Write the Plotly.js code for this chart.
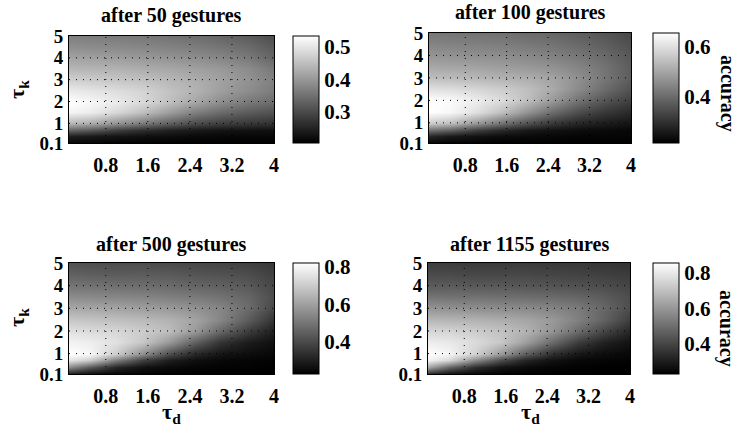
<!DOCTYPE html>
<html>
<head>
<meta charset="utf-8">
<script src="https://cdn.plot.ly/plotly-3.0.1.min.js"></script>
<style>html,body{margin:0;padding:0;background:#fff;}#chart{width:738px;height:426px;}</style>
</head>
<body>
<div id="chart"></div>
<script>
// grid of tau_d (x) and tau_k (y) sample points
const tauD = [0.1, 0.5, 1.0, 1.5, 2.0, 2.5, 3.0, 3.5, 4.0];
const tauK = [0.1, 0.4, 0.7, 1.0, 1.5, 2.0, 2.5, 3.0, 3.5, 4.0, 4.5, 5.0];

// accuracy after 50 gestures (rows = tauK, cols = tauD)
const acc50 = [
  [0.210,0.210,0.206,0.206,0.203,0.203,0.203,0.203,0.203],
  [0.243,0.236,0.229,0.223,0.220,0.216,0.213,0.213,0.213],
  [0.335,0.319,0.286,0.263,0.246,0.236,0.229,0.226,0.223],
  [0.441,0.428,0.395,0.362,0.329,0.302,0.286,0.276,0.269],
  [0.521,0.511,0.484,0.451,0.408,0.369,0.342,0.322,0.309],
  [0.534,0.524,0.508,0.484,0.451,0.418,0.385,0.359,0.342],
  [0.508,0.501,0.491,0.478,0.455,0.435,0.408,0.385,0.362],
  [0.474,0.468,0.461,0.455,0.441,0.428,0.412,0.392,0.369],
  [0.441,0.438,0.435,0.428,0.421,0.412,0.402,0.385,0.359],
  [0.415,0.412,0.408,0.402,0.395,0.388,0.378,0.362,0.335],
  [0.388,0.385,0.382,0.378,0.372,0.365,0.355,0.342,0.319],
  [0.369,0.365,0.362,0.359,0.352,0.345,0.335,0.322,0.302]
];
// accuracy after 100 gestures
const acc100 = [
  [0.219,0.214,0.214,0.210,0.210,0.210,0.210,0.210,0.210],
  [0.277,0.255,0.241,0.232,0.228,0.223,0.219,0.219,0.219],
  [0.411,0.380,0.322,0.282,0.255,0.241,0.232,0.228,0.223],
  [0.568,0.545,0.478,0.411,0.353,0.308,0.277,0.259,0.246],
  [0.657,0.644,0.603,0.545,0.469,0.398,0.344,0.308,0.282],
  [0.657,0.648,0.626,0.594,0.545,0.478,0.411,0.358,0.322],
  [0.603,0.599,0.585,0.568,0.545,0.505,0.451,0.398,0.353],
  [0.545,0.541,0.532,0.523,0.514,0.496,0.460,0.416,0.371],
  [0.505,0.501,0.496,0.487,0.478,0.465,0.442,0.411,0.371],
  [0.469,0.465,0.460,0.456,0.447,0.434,0.416,0.393,0.362],
  [0.442,0.438,0.434,0.429,0.420,0.411,0.393,0.375,0.349],
  [0.420,0.416,0.411,0.407,0.398,0.389,0.375,0.358,0.335]
];
// accuracy after 500 gestures
const acc500 = [
  [0.289,0.254,0.242,0.236,0.230,0.230,0.230,0.230,0.230],
  [0.555,0.437,0.319,0.271,0.254,0.242,0.236,0.236,0.230],
  [0.761,0.702,0.525,0.378,0.301,0.265,0.248,0.242,0.236],
  [0.820,0.802,0.702,0.555,0.407,0.319,0.277,0.260,0.248],
  [0.791,0.779,0.749,0.690,0.584,0.454,0.348,0.295,0.265],
  [0.749,0.737,0.726,0.702,0.667,0.584,0.466,0.372,0.301],
  [0.690,0.684,0.673,0.661,0.643,0.608,0.537,0.442,0.348],
  [0.619,0.614,0.608,0.596,0.584,0.566,0.537,0.478,0.395],
  [0.555,0.549,0.543,0.537,0.525,0.513,0.496,0.466,0.407],
  [0.501,0.496,0.490,0.484,0.478,0.466,0.454,0.437,0.395],
  [0.454,0.448,0.442,0.442,0.437,0.425,0.419,0.407,0.378],
  [0.419,0.413,0.407,0.407,0.401,0.395,0.389,0.378,0.360]
];
// accuracy after 1155 gestures
const acc1155 = [
  [0.324,0.261,0.243,0.236,0.230,0.230,0.230,0.230,0.230],
  [0.636,0.480,0.343,0.280,0.255,0.243,0.236,0.230,0.230],
  [0.824,0.761,0.574,0.418,0.318,0.274,0.249,0.243,0.236],
  [0.855,0.830,0.743,0.605,0.455,0.343,0.286,0.261,0.249],
  [0.811,0.799,0.768,0.718,0.618,0.493,0.380,0.311,0.274],
  [0.755,0.749,0.730,0.705,0.668,0.593,0.493,0.399,0.324],
  [0.680,0.674,0.668,0.655,0.636,0.605,0.543,0.468,0.380],
  [0.593,0.586,0.580,0.574,0.568,0.555,0.530,0.480,0.418],
  [0.518,0.511,0.511,0.505,0.499,0.493,0.480,0.455,0.418],
  [0.455,0.455,0.449,0.449,0.443,0.436,0.430,0.418,0.399],
  [0.411,0.411,0.405,0.405,0.405,0.399,0.393,0.386,0.374],
  [0.380,0.380,0.374,0.374,0.374,0.368,0.368,0.361,0.355]
];

const panelTitles = ['after 50 gestures', 'after 100 gestures', 'after 500 gestures', 'after 1155 gestures'];
const xTickVals = [0.8, 1.6, 2.4, 3.2, 4];
const xTickText = ['0.8', '1.6', '2.4', '3.2', '4'];
const yTickVals = [0.1, 1, 2, 3, 4, 5];
const yTickText = ['0.1', '1', '2', '3', '4', '5'];
const cbTicks50 = [0.3, 0.4, 0.5];
const cbTicks100 = [0.4, 0.6];
const cbTicks500 = [0.4, 0.6, 0.8];
const cbTicks1155 = [0.4, 0.6, 0.8];
const cbRange50 = [0.203, 0.534];
const cbRange100 = [0.210, 0.657];
const cbRange500 = [0.230, 0.820];
const cbRange1155 = [0.230, 0.855];

const W = 738, H = 426;
const FONT = 'Liberation Serif, Times New Roman, serif';
const px = v => v / W;
const py = v => 1 - v / H;

const panels = [
  {z: acc50, ticks: cbTicks50, range: cbRange50, xd: [69, 274], yd: [36, 143], cbx: 293, tcy: 16},
  {z: acc100, ticks: cbTicks100, range: cbRange100, xd: [429, 631], yd: [33, 143], cbx: 653, tcy: 13},
  {z: acc500, ticks: cbTicks500, range: cbRange500, xd: [69, 274], yd: [263, 374], cbx: 293, tcy: 244},
  {z: acc1155, ticks: cbTicks1155, range: cbRange1155, xd: [428, 630], yd: [263, 374], cbx: 653, tcy: 244}
];

const gray = [[0, 'rgb(0,0,0)'], [1, 'rgb(255,255,255)']];
const data = [];
const layout = {
  width: W, height: H,
  margin: {l: 0, r: 0, t: 0, b: 0},
  paper_bgcolor: '#fff', plot_bgcolor: '#fff',
  showlegend: false,
  font: {family: FONT, color: '#000'},
  annotations: [], shapes: []
};

panels.forEach((p, i) => {
  const n = i + 1;
  const xa = 'x' + (n === 1 ? '' : n), ya = 'y' + (n === 1 ? '' : n);
  data.push({
    type: 'heatmap', x: tauD, y: tauK, z: p.z,
    xaxis: xa, yaxis: ya,
    colorscale: gray, zmin: p.range[0], zmax: p.range[1], zsmooth: 'best',
    showscale: true,
    colorbar: {
      x: px(p.cbx), xanchor: 'left', xref: 'paper',
      y: py((p.yd[0] + p.yd[1]) / 2), yanchor: 'middle', yref: 'paper',
      len: p.yd[1] - p.yd[0], lenmode: 'pixels',
      thickness: 26, thicknessmode: 'pixels',
      outlinecolor: '#000', outlinewidth: 1,
      tickmode: 'array', tickvals: p.ticks, ticktext: p.ticks.map(v => '<b>' + v.toFixed(1) + '</b>'),
      ticks: '', ticklabelpad: 0,
      tickfont: {family: FONT, size: 21, weight: 'bold', color: '#000'},
      xpad: 0, ypad: 0
    }
  });
  const axName = n === 1 ? '' : n;
  layout['xaxis' + axName] = {
    domain: [px(p.xd[0]), px(p.xd[1])], anchor: ya, range: [0.1, 4],
    tickmode: 'array', tickvals: xTickVals, ticktext: xTickText.map(t => '<b>' + t + '</b>'),
    ticks: 'outside', ticklen: 4, tickcolor: 'rgba(0,0,0,0)',
    tickfont: {family: FONT, size: 20, weight: 'bold', color: '#000'},
    showgrid: false, zeroline: false, showline: true, mirror: true,
    linecolor: '#000', linewidth: 1, fixedrange: true
  };
  layout['yaxis' + axName] = {
    domain: [py(p.yd[1]), py(p.yd[0])], anchor: xa, range: [0.1, 5],
    tickmode: 'array', tickvals: yTickVals, ticktext: yTickText.map(t => '<b>' + t + '</b>'),
    ticks: 'outside', ticklen: 1, tickcolor: 'rgba(0,0,0,0)',
    tickfont: {family: FONT, size: 19, weight: 'bold', color: '#000'},
    showgrid: false, zeroline: false, showline: true, mirror: true,
    linecolor: '#000', linewidth: 1, fixedrange: true
  };
  // dotted grid lines drawn above the heatmap, at the tick positions
  xTickVals.slice(0, -1).forEach(v => layout.shapes.push({
    type: 'line', xref: xa, yref: ya, x0: v, x1: v, y0: 0.1, y1: 5, layer: 'above',
    line: {color: '#000', width: 1, dash: '1px,6px'}
  }));
  yTickVals.slice(1, -1).forEach(v => layout.shapes.push({
    type: 'line', xref: xa, yref: ya, x0: 0.1, x1: 4, y0: v, y1: v, layer: 'above',
    line: {color: '#000', width: 1, dash: '1px,6px'}
  }));
  // panel title
  layout.annotations.push({
    text: '<b>' + panelTitles[i] + '</b>', xref: 'paper', yref: 'paper',
    x: px((p.xd[0] + p.xd[1]) / 2), y: py(p.tcy), xanchor: 'center', yanchor: 'middle',
    showarrow: false, font: {family: FONT, size: 20, weight: 'bold', color: '#000'}
  });
});

// axis labels
const tk = '<b>\u03c4<sub>k</sub></b>', td = '<b>\u03c4<sub>d</sub></b>';
[[18, 90], [18, 318]].forEach(c => layout.annotations.push({
  text: tk, xref: 'paper', yref: 'paper', x: px(c[0]), y: py(c[1]), xanchor: 'center', yanchor: 'middle',
  textangle: -90, showarrow: false, font: {family: FONT, size: 22, weight: 'bold', color: '#000'}
}));
[[171, 413], [530, 413]].forEach(c => layout.annotations.push({
  text: td, xref: 'paper', yref: 'paper', x: px(c[0]), y: py(c[1]), xanchor: 'center', yanchor: 'middle',
  showarrow: false, font: {family: FONT, size: 22, weight: 'bold', color: '#000'}
}));
[[727, 93], [727, 328]].forEach(c => layout.annotations.push({
  text: '<b>accuracy</b>', xref: 'paper', yref: 'paper', x: px(c[0]), y: py(c[1]), xanchor: 'center', yanchor: 'middle',
  textangle: 90, showarrow: false, font: {family: FONT, size: 20, weight: 'bold', color: '#000'}
}));

Plotly.newPlot('chart', data, layout, {staticPlot: true, displayModeBar: false});
</script>
</body>
</html>
